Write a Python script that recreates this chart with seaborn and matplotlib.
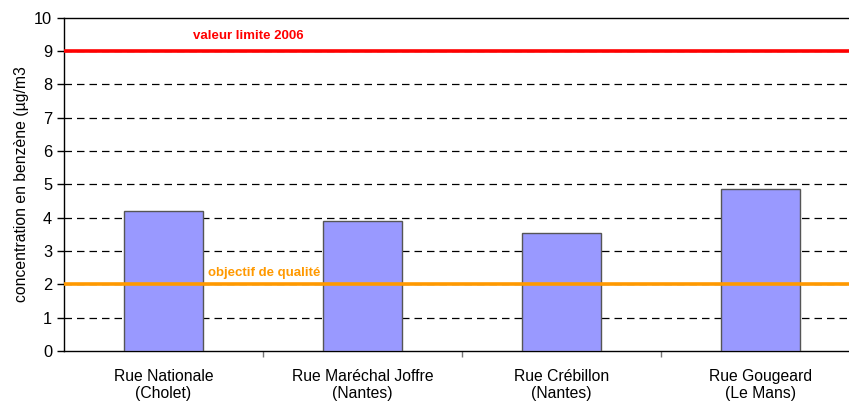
import pandas as pd
import matplotlib
matplotlib.use("Agg")
import matplotlib.pyplot as plt
import seaborn as sns

sites = ["Rue Nationale\n(Cholet)", "Rue Maréchal Joffre\n(Nantes)",
         "Rue Crébillon\n(Nantes)", "Rue Gougeard\n(Le Mans)"]
benzene = [4.2, 3.9, 3.55, 4.85]
limit_value = 9
quality_goal = 2

df = pd.DataFrame({"site": sites, "benzene": benzene})

sns.set_style("white")
plt.rcParams['font.family'] = ['Liberation Sans', 'DejaVu Sans']

fig = plt.figure(figsize=(8.49, 4.03), dpi=100)
# plot area runs a little past the right edge, like the original export
ax = fig.add_axes([64/849, 52/403, 796/849, 333.5/403])

sns.barplot(data=df, x="site", y="benzene", width=0.4, color="#9999FF",
            edgecolor="#555555", linewidth=1, saturation=1, ax=ax, zorder=3)

ax.set_ylim(0, 10)
ax.set_xlim(-0.5, 3.5)
ax.set_yticks(range(0, 11))
for y in range(1, 10):
    ax.axhline(y, color="black", lw=0.9, ls=(0, (6, 4)), zorder=1)

ax.axhline(limit_value, color="#FF0000", lw=2.6, zorder=4)
ax.axhline(quality_goal, color="#FF9900", lw=2.6, zorder=4)
ax.text(0.148, limit_value + 0.46, "valeur limite 2006", color="#FF0000",
        fontsize=9.5, fontweight="bold", va="center", ha="left", zorder=5)
ax.text(0.224, quality_goal + 0.35, "objectif de qualité", color="#FF9900",
        fontsize=9.5, fontweight="bold", va="center", ha="left", zorder=5)

ax.set_xlabel("")
ax.set_ylabel("concentration en benzène (µg/m3", fontsize=11.3, color="black")
ax.tick_params(axis="x", length=0, labelsize=11.3, pad=13, labelcolor="black")
ax.tick_params(axis="y", length=5, width=1, color="black", labelsize=11.8,
               labelcolor="black", left=True)
ax.set_xticks([0.5, 1.5, 2.5], minor=True)
ax.tick_params(axis="x", which="minor", length=4, width=1, color="#777777", bottom=True)

for s in ["left", "bottom", "top"]:
    ax.spines[s].set_color("black")
    ax.spines[s].set_linewidth(1)
ax.spines["right"].set_visible(False)

plt.savefig("out.png", dpi=100)
